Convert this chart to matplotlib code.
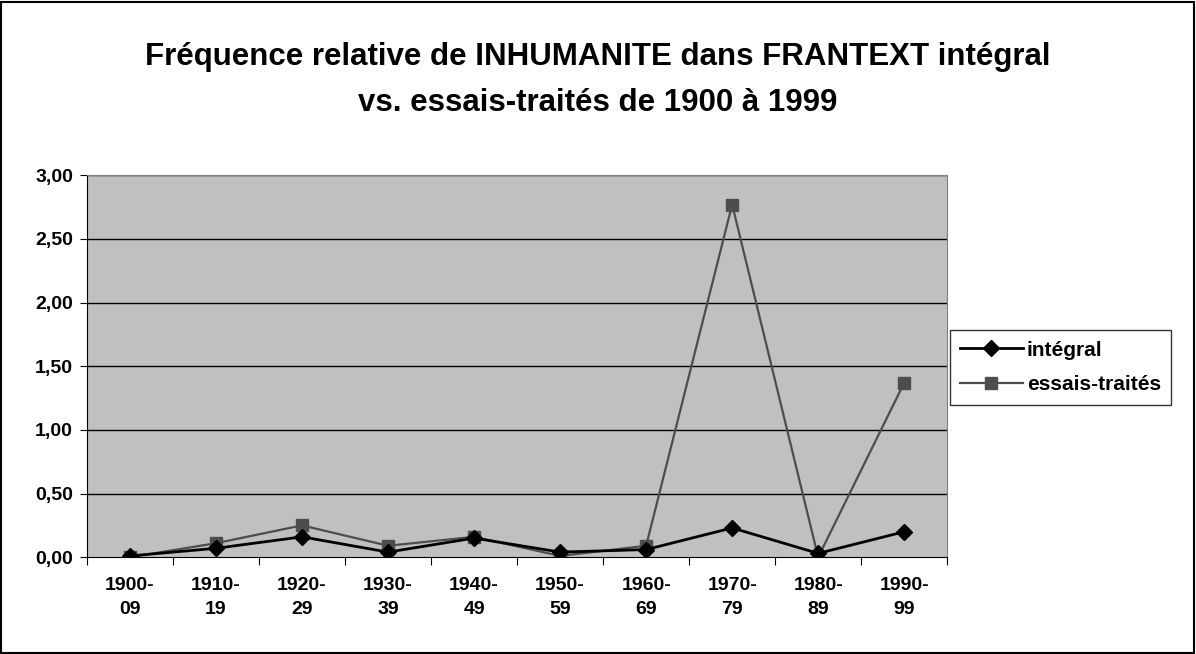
import matplotlib
matplotlib.use('agg')
import matplotlib.pyplot as plt
from matplotlib.patches import Rectangle
import numpy as np

periods = ['1900-\n09', '1910-\n19', '1920-\n29', '1930-\n39', '1940-\n49',
           '1950-\n59', '1960-\n69', '1970-\n79', '1980-\n89', '1990-\n99']
integral = [0.01, 0.07, 0.16, 0.04, 0.15, 0.04, 0.06, 0.23, 0.03, 0.20]
essais = [0.00, 0.11, 0.25, 0.09, 0.16, 0.01, 0.09, 2.77, 0.00, 1.37]
y_ticks = [0.0, 0.5, 1.0, 1.5, 2.0, 2.5, 3.0]

plt.rcParams['font.family'] = ['Liberation Sans', 'DejaVu Sans']

fig = plt.figure(figsize=(11.96, 6.54), dpi=100)
ax = fig.add_axes([0.0727, 0.148, 0.7193, 0.584])

x = np.arange(len(periods))
ax.set_facecolor('#c0c0c0')
for t in y_ticks[1:]:
    ax.axhline(t, color='black', lw=1, zorder=1)

ax.plot(x, integral, color='black', lw=2, marker='D', ms=8, label='intégral', zorder=3)
ax.plot(x, essais, color='#4d4d4d', lw=1.6, marker='s', ms=8, label='essais-traités', zorder=2)

ax.set_xlim(-0.5, len(periods) - 0.5)
ax.set_ylim(0, 3)
ax.set_yticks(y_ticks)
ax.set_yticklabels([f'{t:.2f}'.replace('.', ',') for t in y_ticks], fontsize=14, fontweight='bold')
ax.set_xticks(np.arange(len(periods) + 1) - 0.5)
ax.set_xticklabels([])
ax.set_xticks(x, minor=True)
ax.set_xticklabels(periods, minor=True, fontsize=14, fontweight='bold', linespacing=1.6)
ax.tick_params(axis='x', which='minor', length=0, pad=14)
ax.tick_params(axis='x', which='major', length=6, direction='out')
ax.tick_params(axis='y', length=5, direction='out', pad=5)

for side in ['top', 'right']:
    ax.spines[side].set_color('#808080')
ax.spines['left'].set_color('black')
ax.spines['bottom'].set_color('black')

fig.text(0.5, 0.913, 'Fréquence relative de INHUMANITE dans FRANTEXT intégral',
         ha='center', va='center', fontsize=22.5, fontweight='bold')
fig.text(0.5, 0.843, 'vs. essais-traités de 1900 à 1999',
         ha='center', va='center', fontsize=22.5, fontweight='bold')

leg = ax.legend(loc='center left', bbox_to_anchor=(1.003, 0.497), frameon=True,
                fancybox=False, edgecolor='black',
                prop={'weight': 'bold', 'size': 15}, handlelength=3.0,
                borderpad=0.5, labelspacing=0.75, handletextpad=0.2,
                borderaxespad=0.0)
leg.get_frame().set_linewidth(1)

fig.patches.append(Rectangle((0.001, 0.002), 0.997, 0.995, transform=fig.transFigure,
                             fill=False, edgecolor='black', lw=1.5))

fig.savefig('out.png', dpi=100)
